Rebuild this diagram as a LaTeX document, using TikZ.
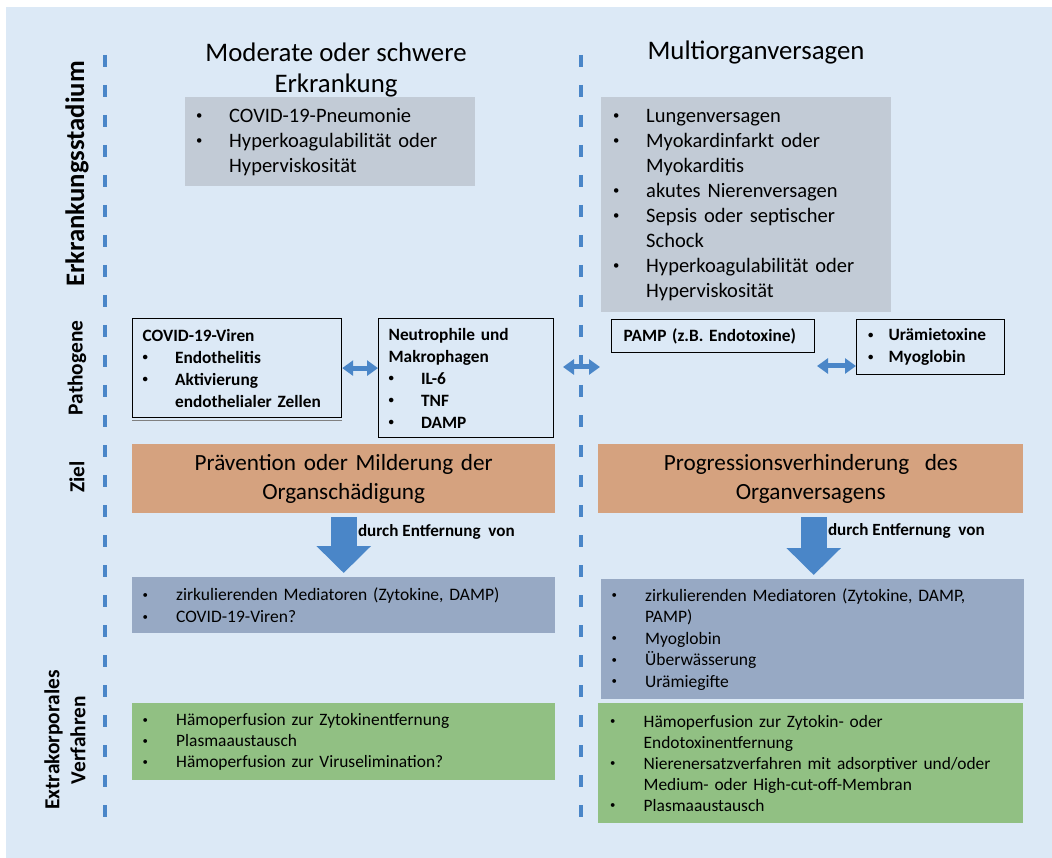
\documentclass[tikz,border=0pt]{standalone}
\usepackage{fontspec}
\setmainfont{Carlito}
\usetikzlibrary{arrows.meta,positioning}
\definecolor{bgblue}{HTML}{DCE9F6}
\definecolor{stagegrey}{HTML}{C2CBD6}
\definecolor{goalorange}{HTML}{D5A27F}
\definecolor{medblue}{HTML}{97A9C4}
\definecolor{procgreen}{HTML}{91C083}
\definecolor{arrowblue}{HTML}{4A86C8}
\newcommand{\bul}[1][33pt]{\makebox[#1][l]{\raisebox{0.13em}{\scalebox{0.62}{\textbullet}}}}
\newcommand{\wrapin}[1][33pt]{\hspace*{#1}}
\tikzset{every node/.style={align=center}}
\tikzset{
  stagebox/.style={anchor=north west,fill=stagegrey,align=left,font=\fontsize{20.5}{25}\selectfont},
  pathbox/.style={anchor=north west,draw,line width=1.2pt,align=left,inner xsep=10pt,font=\bfseries\fontsize{17.3}{22}\selectfont},
  goalbox/.style={anchor=north west,fill=goalorange,minimum height=69pt,font=\fontsize{23.2}{29}\selectfont},
  medbox/.style={anchor=north west,fill=medblue,align=left,inner xsep=10.5pt,font=\fontsize{17.5}{21.5}\selectfont},
  procbox/.style={anchor=north west,fill=procgreen,align=left,font=\fontsize{17.4}{21}\selectfont},
  rowlabel/.style={rotate=90,font=\bfseries\fontsize{21.4}{26}\selectfont},
  headline/.style={font=\fontsize{26.8}{31}\selectfont},
  remlabel/.style={text=black,outer sep=0pt,font=\bfseries\fontsize{17.1}{20}\selectfont},
  biarrow/.style={{Triangle[width=15pt,length=11pt]}-{Triangle[width=15pt,length=11pt]},line width=5pt,arrowblue},
  downarrow/.style={-{Triangle[width=53pt,length=27pt]},line width=26pt,arrowblue,shorten <=4pt,shorten >=4pt},
  sepline/.style={line width=3.5pt,arrowblue,dash pattern=on 12pt off 18pt}
}

\begin{document}
\begin{tikzpicture}[x=1pt,y=-1pt]
\useasboundingbox (0,0) rectangle (1052,858);
\fill[bgblue] (6,7) rectangle (1052,858);

% column separators
\coordinate (a1) at (105,55);
\coordinate (a2) at (105,823);
\coordinate (b1) at (581,55);
\coordinate (b2) at (581,823);
\draw[sepline] (a1) -- (a2);
\draw[sepline] (b1) -- (b2);

% row labels
\node[rowlabel,font=\bfseries\fontsize{26.7}{30}\selectfont] (L1) at (77,174) {Erkrankungsstadium};
\node[rowlabel] (L2) at (77,368) {Pathogene};
\node[rowlabel] (L3) at (77,477) {Ziel};
\node[rowlabel] (L4) at (65,740) {Extrakorporales\\Verfahren};

% stage
\node[headline] (T1) at (336,70) {Moderate oder schwere\\Erkrankung};
\node[headline] (T2) at (756,53) {Multiorganversagen};
\node[stagebox,inner xsep=11pt,text width=268pt,minimum height=89pt] (S1) at (185,97)
  {\bul COVID-19-Pneumonie\\\bul Hyperkoagulabilität oder\\\wrapin Hyperviskosität};
\node[stagebox,inner xsep=12pt,text width=266pt,minimum height=215pt] (S2) at (601,97)
  {\bul Lungenversagen\\\bul Myokardinfarkt oder\\\wrapin Myokarditis\\\bul akutes Nierenversagen\\
   \bul Sepsis oder septischer\\\wrapin Schock\\\bul Hyperkoagulabilität oder\\\wrapin Hyperviskosität};

% pathogens
\node[pathbox,text width=189pt,minimum height=99pt] (P1) at (132,318)
  {COVID-19-Viren\\\bul[32.5pt]Endothelitis\\\bul[32.5pt]Aktivierung\\\wrapin[32.5pt]endothelialer Zellen};
\draw[gray,line width=1pt] ([yshift=-2.5pt]P1.south west) -- ([yshift=-2.5pt]P1.south east);
\node[pathbox,text width=155pt,minimum height=119pt] (P2) at (378,318)
  {Neutrophile und\\Makrophagen\\\bul[32.5pt]IL-6\\\bul[32.5pt]TNF\\\bul[32.5pt]DAMP};
\node[pathbox,inner xsep=12pt,text width=179pt,minimum height=33pt] (P3) at (611,319)
  {PAMP (z.B. Endotoxine)};
\node[pathbox,inner xsep=11.5pt,text width=125pt,minimum height=55pt] (P4) at (856,319)
  {\bul[20.5pt]Urämietoxine\\\bul[20.5pt]Myoglobin};

\coordinate (m1) at (563,367);
\coordinate (m2) at (600,367);
\coordinate (q1) at (817,366);
\draw[biarrow] (P1.east) -- (P1.east -| P2.west);
\draw[biarrow] (m1) -- (m2);
\draw[biarrow] (q1) -- (q1 -| P4.west);

% goals
\node[goalbox,text width=423pt,inner xsep=0pt] (Z1) at (132,444)
  {Prävention oder Milderung der\\Organschädigung};
\node[goalbox,text width=425pt,inner xsep=0pt] (Z2) at (598,444)
  {Progressionsverhinderung\ \ des\\Organversagens};

% removal
\node[medbox,text width=402pt,minimum height=56pt] (M1) at (132,577)
  {\bul[33.5pt]zirkulierenden Mediatoren (Zytokine, DAMP)\\\bul[33.5pt]COVID-19-Viren?};
\node[medbox,text width=402pt,minimum height=120pt] (M2) at (601,579)
  {\bul[33.5pt]zirkulierenden Mediatoren (Zytokine, DAMP,\\\wrapin[33.5pt]PAMP)\\\bul[33.5pt]Myoglobin\\
   \bul[33.5pt]Überwässerung\\\bul[33.5pt]Urämiegifte};

\draw[downarrow] (Z1.south) -- (Z1.south |- M1.north)
  node[remlabel,pos=0.29,right=11pt] (R1) {durch Entfernung\ \ von};
\draw[downarrow] ([xshift=3pt]Z2.south) -- ([xshift=3pt]Z2.south |- M2.north)
  node[remlabel,pos=0.27,right=11pt] (R2) {durch Entfernung\ \ von};

% procedures
\node[procbox,inner xsep=10.5pt,text width=402pt,minimum height=77pt] (V1) at (132,703)
  {\bul[33.5pt]Hämoperfusion zur Zytokinentfernung\\\bul[33.5pt]Plasmaaustausch\\
   \bul[33.5pt]Hämoperfusion zur Viruselimination?};
\node[procbox,inner xsep=12pt,text width=401pt,minimum height=120pt] (V2) at (598,703)
  {\bul[33.5pt]Hämoperfusion zur Zytokin- oder\\\wrapin[33.5pt]Endotoxinentfernung\\
   \bul[33.5pt]Nierenersatzverfahren mit adsorptiver und/oder\\\wrapin[33.5pt]Medium- oder High-cut-off-Membran\\
   \bul[33.5pt]Plasmaaustausch};

\end{tikzpicture}
\end{document}
